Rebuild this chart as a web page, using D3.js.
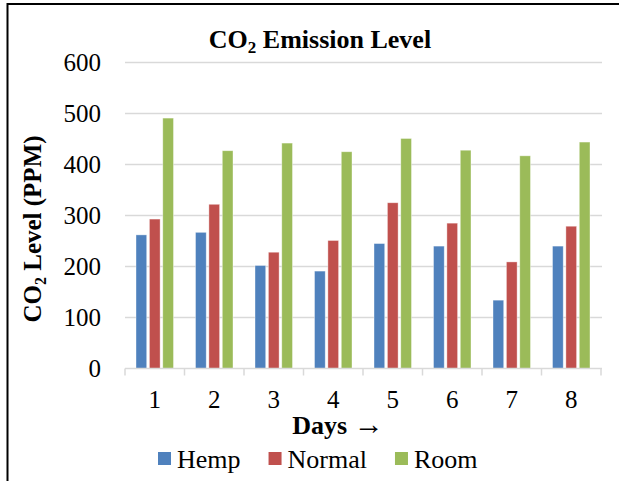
<!DOCTYPE html>
<html lang="en">
  <head>
    <meta charset="UTF-8" />
    <title>CO2 Emission Level</title>
    <script src="https://cdn.jsdelivr.net/npm/d3@7"></script>
    <style>
      body { margin: 0; background: #fff; }
      svg { display: block; font-family: "Liberation Serif", "Times New Roman", serif; }
    </style>
  </head>
  <body>
    <svg width="619" height="481"></svg>
    <script>
      // data
      const days = ["1", "2", "3", "4", "5", "6", "7", "8"];
      const series = ["Hemp", "Normal", "Room"];
      const hemp = [262, 267, 202, 191, 245, 240, 134, 240];
      const normal = [293, 322, 228, 251, 325, 285, 209, 279];
      const room = [491, 427, 442, 425, 451, 428, 417, 444];
      const yTicks = [0, 100, 200, 300, 400, 500, 600];
      const colors = ["#4F81BD", "#C0504D", "#9BBB59"];

      const values = [hemp, normal, room];
      const svg = d3.select("svg");

      // frame (right and bottom edges are cut off in the original)
      svg.append("path")
        .attr("d", "M7.5,481 V4 H619")
        .attr("fill", "none")
        .attr("stroke", "#000")
        .attr("stroke-width", 2);

      const plotL = 125, plotR = 601, plotT = 62.5, plotB = 368.5;

      const x0 = d3.scaleBand().domain(days).range([plotL, plotR]);
      const x1 = d3.scaleBand().domain(series)
        .range([x0.bandwidth() * 0.185, x0.bandwidth() * 0.815])
        .paddingInner(0.2);
      const y = d3.scaleLinear().domain([0, 600]).range([plotB, plotT]);
      const color = d3.scaleOrdinal().domain(series).range(colors);

      // gridlines
      svg.append("g")
        .selectAll("line")
        .data(yTicks.filter(d => d > 0))
        .join("line")
        .attr("x1", plotL).attr("x2", plotR + 1)
        .attr("y1", d => y(d)).attr("y2", d => y(d))
        .attr("stroke", "#d9d9d9")
        .attr("stroke-width", 1.5);

      // y tick labels
      svg.append("g")
        .selectAll("text")
        .data(yTicks)
        .join("text")
        .attr("x", 101)
        .attr("y", d => y(d))
        .attr("dy", "0.34em")
        .attr("text-anchor", "end")
        .attr("font-size", 25)
        .text(d => d);

      // bars
      const groups = svg.append("g")
        .selectAll("g")
        .data(days)
        .join("g")
        .attr("transform", d => `translate(${x0(d)},0)`);

      groups.selectAll("rect")
        .data((d, i) => series.map((s, j) => ({ s, v: values[j][i] })))
        .join("rect")
        .attr("x", d => x1(d.s))
        .attr("width", x1.bandwidth())
        .attr("y", d => y(d.v))
        .attr("height", d => y(0) - y(d.v))
        .attr("fill", d => color(d.s))
        .attr("stroke", "#fff")
        .attr("stroke-opacity", 0.5)
        .attr("stroke-width", 0.75);

      // x axis with ticks between categories
      const xAxis = svg.append("g");
      xAxis.append("line")
        .attr("x1", plotL).attr("x2", plotR + 1)
        .attr("y1", plotB).attr("y2", plotB)
        .attr("stroke", "#d9d9d9").attr("stroke-width", 1.5);
      xAxis.selectAll("line.tick")
        .data(days.concat(["end"]))
        .join("line")
        .attr("class", "tick")
        .attr("x1", d => d === "end" ? plotR : x0(d))
        .attr("x2", d => d === "end" ? plotR : x0(d))
        .attr("y1", plotB).attr("y2", plotB + 7)
        .attr("stroke", "#d9d9d9").attr("stroke-width", 1.5);
      xAxis.selectAll("text")
        .data(days)
        .join("text")
        .attr("x", d => x0(d) + x0.bandwidth() / 2)
        .attr("y", 408)
        .attr("text-anchor", "middle")
        .attr("font-size", 25)
        .text(d => d);

      // title
      const title = svg.append("text")
        .attr("x", 320).attr("y", 48)
        .attr("text-anchor", "middle")
        .attr("font-size", 26)
        .attr("font-weight", "bold");
      title.append("tspan").text("CO");
      title.append("tspan").attr("font-size", 17).attr("dy", 5).text("2");
      title.append("tspan").attr("dy", -5).text(" Emission Level");

      // y axis title
      const yTitle = svg.append("text")
        .attr("transform", "translate(41,229) rotate(-90)")
        .attr("text-anchor", "middle")
        .attr("font-size", 25)
        .attr("font-weight", "bold");
      yTitle.append("tspan").text("CO");
      yTitle.append("tspan").attr("font-size", 16).attr("dy", 5).text("2");
      yTitle.append("tspan").attr("dy", -5).text(" Level (PPM)");

      // x axis title
      const xTitle = svg.append("text")
        .attr("x", 338).attr("y", 434)
        .attr("text-anchor", "middle")
        .attr("font-size", 26)
        .attr("font-weight", "bold");
      xTitle.append("tspan").text("Days ");
      xTitle.append("tspan").attr("font-size", 30).attr("font-weight", "normal").text("\u2192");

      // legend
      const legend = svg.append("g");
      let lx = 158;
      series.forEach(s => {
        const item = legend.append("g").attr("transform", `translate(${lx},0)`);
        item.append("rect")
          .attr("x", 0).attr("y", 452)
          .attr("width", 13).attr("height", 13)
          .attr("fill", color(s));
        const t = item.append("text")
          .attr("x", 19).attr("y", 468)
          .attr("font-size", 26)
          .text(s);
        lx += 19 + t.node().getComputedTextLength() + 28;
      });
    </script>
  </body>
</html>
